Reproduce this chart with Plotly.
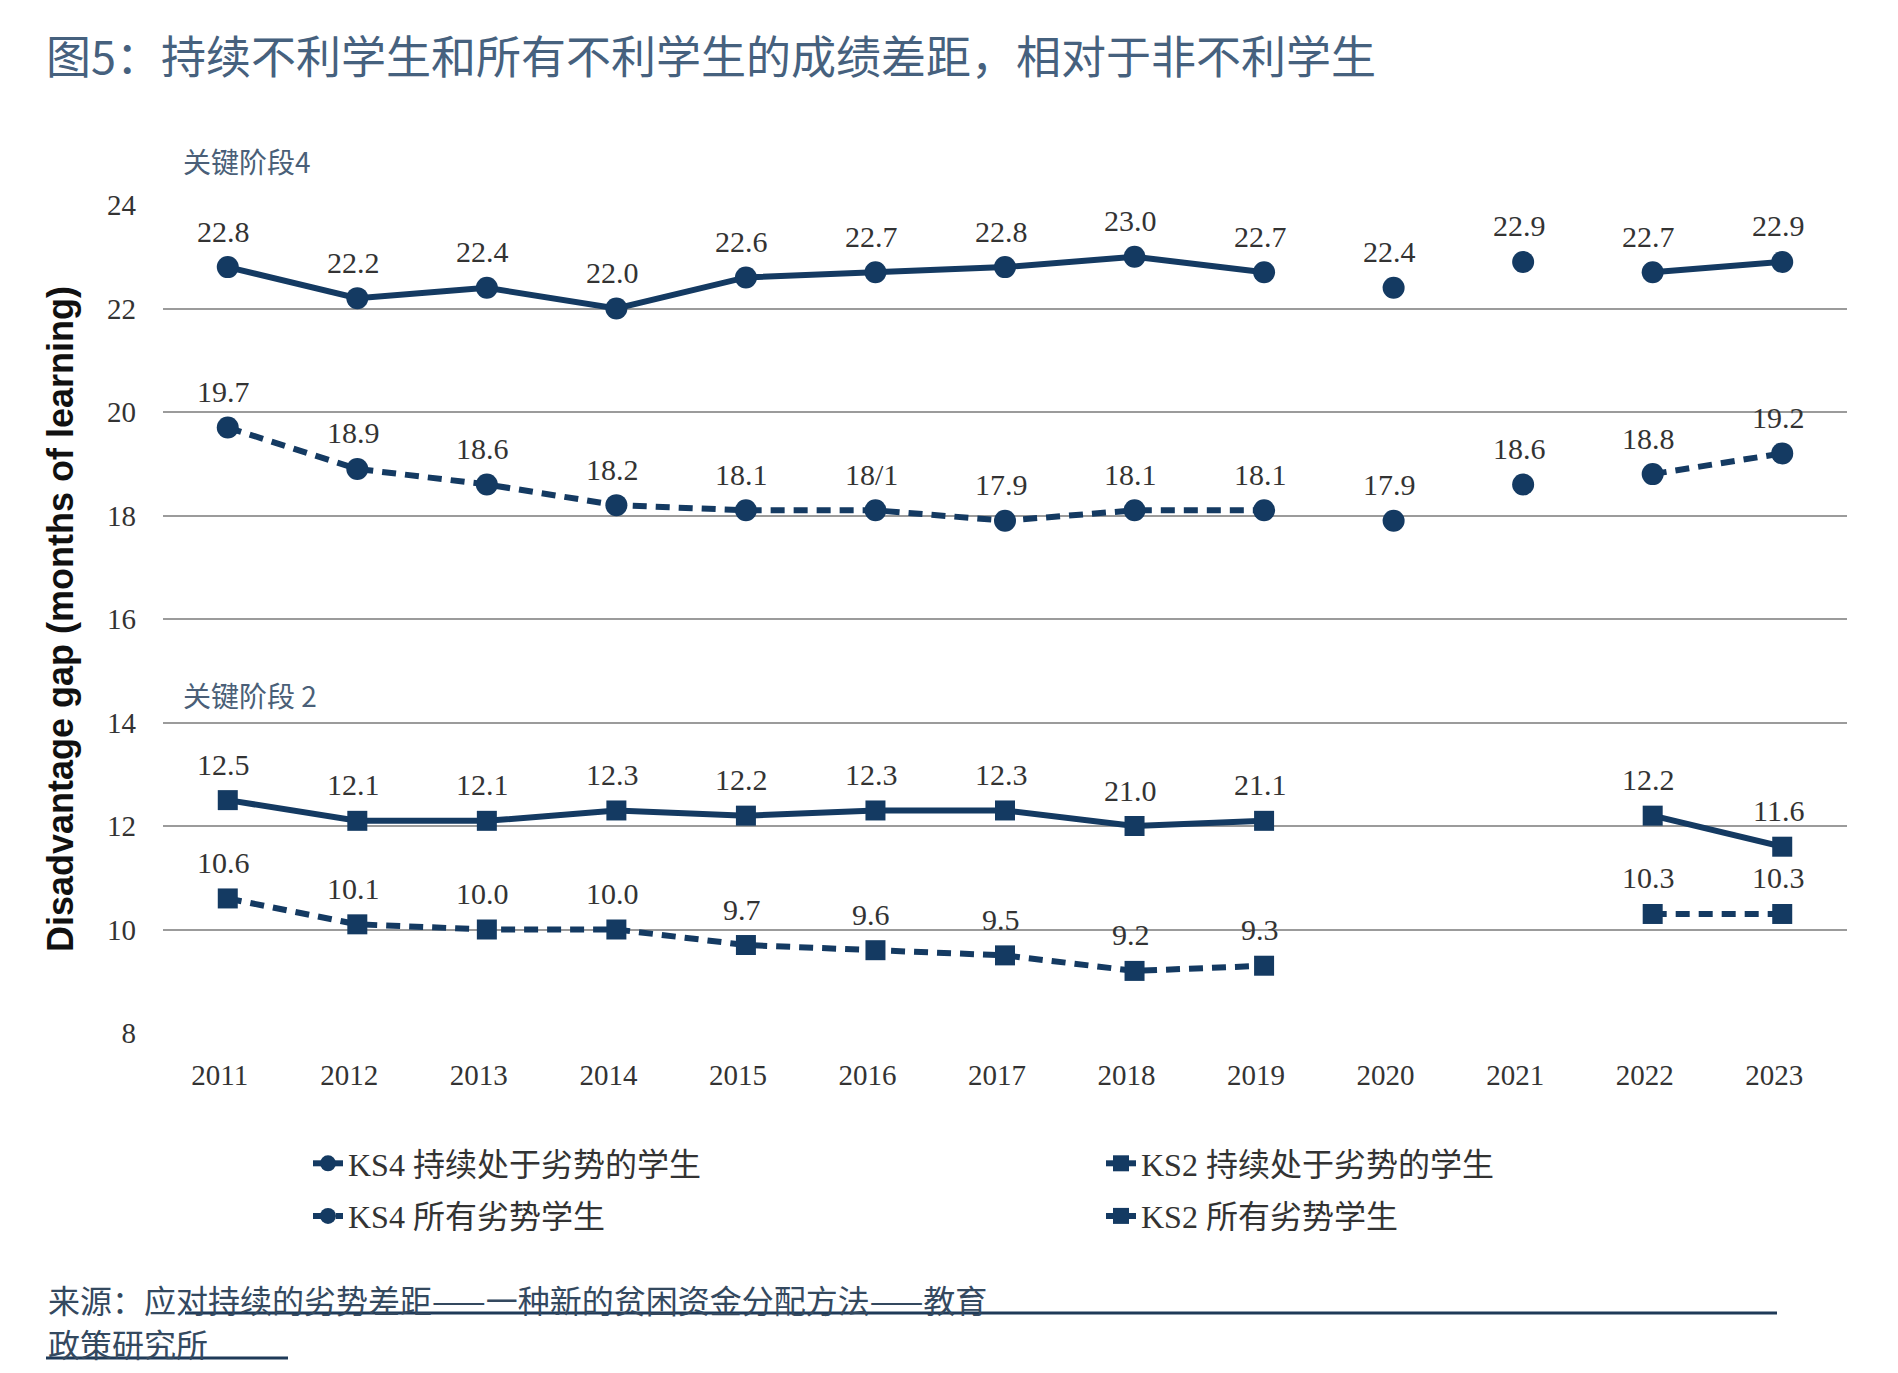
import plotly.graph_objects as go

# ---------------- data ----------------
years = [2011, 2012, 2013, 2014, 2015, 2016, 2017, 2018, 2019, 2020, 2021, 2022, 2023]

ks4_persistent = [22.8, 22.2, 22.4, 22.0, 22.6, 22.7, 22.8, 23.0, 22.7, 22.4, 22.9, 22.7, 22.9]
ks4_all = [19.7, 18.9, 18.6, 18.2, 18.1, 18.1, 17.9, 18.1, 18.1, 17.9, 18.6, 18.8, 19.2]
ks2_persistent = [12.5, 12.1, 12.1, 12.3, 12.2, 12.3, 12.3, 12.0, 12.1, None, None, 12.2, 11.6]
ks2_all = [10.6, 10.1, 10.0, 10.0, 9.7, 9.6, 9.5, 9.2, 9.3, None, None, 10.3, 10.3]

# labels exactly as printed in the source chart
ks4_persistent_labels = ["22.8", "22.2", "22.4", "22.0", "22.6", "22.7", "22.8", "23.0", "22.7", "22.4", "22.9", "22.7", "22.9"]
ks4_all_labels = ["19.7", "18.9", "18.6", "18.2", "18.1", "18/1", "17.9", "18.1", "18.1", "17.9", "18.6", "18.8", "19.2"]
ks2_persistent_labels = ["12.5", "12.1", "12.1", "12.3", "12.2", "12.3", "12.3", "21.0", "21.1", None, None, "12.2", "11.6"]
ks2_all_labels = ["10.6", "10.1", "10.0", "10.0", "9.7", "9.6", "9.5", "9.2", "9.3", None, None, "10.3", "10.3"]

# connected runs of years (lines are broken between runs)
segments = [(2011, 2019), (2020, 2020), (2021, 2021), (2022, 2023)]

series_names = ["KS4 持续处于劣势的学生", "KS4 所有劣势学生", "KS2 持续处于劣势的学生", "KS2 所有劣势学生"]
y_ticks = [8, 10, 12, 14, 16, 18, 20, 22, 24]

title_text = "图5：持续不利学生和所有不利学生的成绩差距，相对于非不利学生"
y_title = "Disadvantage gap (months of learning)"
ks4_section = "关键阶段4"
ks2_section = "关键阶段 2"
source_line1 = "来源：应对持续的劣势差距——一种新的贫困资金分配方法——教育"
source_line2 = "政策研究所"

# ---------------- style ----------------
NAVY = "#143a62"
SERIF = "Liberation Serif, Noto Sans CJK SC, serif"
CJK = "Noto Sans CJK SC, sans-serif"
W, H = 1898, 1373
L, R, T, B = 163, 51, 205, 340
PW, PH = W - L - R, H - T - B


def px_x(px):
    return (px - L) / PW


def px_y(py):
    return (H - B - py) / PH


fig = go.Figure()

series = [
    (ks4_persistent, ks4_persistent_labels, series_names[0], "circle", "solid", "legend"),
    (ks4_all, ks4_all_labels, series_names[1], "circle", "14px,9px", "legend"),
    (ks2_persistent, ks2_persistent_labels, series_names[2], "square", "solid", "legend2"),
    (ks2_all, ks2_all_labels, series_names[3], "square", "14px,9px", "legend2"),
]

for vals, labels, name, symbol, dash, leg in series:
    first = True
    for (a, b) in segments:
        xs = [yr for yr, v in zip(years, vals) if a <= yr <= b and v is not None]
        ys = [v for yr, v in zip(years, vals) if a <= yr <= b and v is not None]
        if not xs:
            continue
        fig.add_trace(go.Scatter(
            x=xs, y=ys, mode="lines+markers", name=name,
            legendgroup=name, showlegend=first, legend=leg,
            line=dict(color=NAVY, width=6, dash=dash),
            marker=dict(symbol=symbol, size=22 if symbol == "circle" else 20, color=NAVY),
            hoverinfo="skip",
        ))
        first = False
    for yr, v, lab in zip(years, vals, labels):
        if v is None or lab is None:
            continue
        fig.add_annotation(
            x=yr, y=v, text=lab, showarrow=False, yshift=36, xshift=-4,
            font=dict(family=SERIF, size=30, color="#333333"),
            xref="x", yref="y",
        )

# section labels
fig.add_annotation(x=px_x(181), y=px_y(161), xref="paper", yref="paper", text=ks4_section,
                   showarrow=False, xanchor="left", yanchor="middle",
                   font=dict(family=CJK, size=28, color="#4a5f78"))
fig.add_annotation(x=px_x(181), y=px_y(695), xref="paper", yref="paper", text=ks2_section,
                   showarrow=False, xanchor="left", yanchor="middle",
                   font=dict(family=CJK, size=28, color="#4a5f78"))

# y-axis title
fig.add_annotation(x=px_x(60), y=0.5, xref="paper", yref="paper", text=y_title,
                   showarrow=False, textangle=-90, xanchor="center", yanchor="middle",
                   font=dict(family="Liberation Sans, Arial, sans-serif", size=36, color="#111111",
                             weight="bold"))

# source
fig.add_annotation(x=px_x(46), y=px_y(1299), xref="paper", yref="paper", text=source_line1,
                   showarrow=False, xanchor="left", yanchor="middle",
                   font=dict(family=CJK, size=32, color="#34495f"))
fig.add_annotation(x=px_x(46), y=px_y(1343), xref="paper", yref="paper", text=source_line2,
                   showarrow=False, xanchor="left", yanchor="middle",
                   font=dict(family=CJK, size=32, color="#34495f"))
fig.add_shape(type="line", xref="paper", yref="paper", x0=px_x(185), x1=px_x(1777),
              y0=px_y(1313), y1=px_y(1313), line=dict(color="#1f3a58", width=3))
fig.add_shape(type="line", xref="paper", yref="paper", x0=px_x(46), x1=px_x(288),
              y0=px_y(1358), y1=px_y(1358), line=dict(color="#1f3a58", width=3))

fig.update_layout(
    width=W, height=H,
    margin=dict(l=L, r=R, t=T, b=B),
    paper_bgcolor="white", plot_bgcolor="white",
    title=dict(text=title_text, x=46 / W, xanchor="left", y=1 - 58 / H, yanchor="middle",
               font=dict(family=CJK, size=45, color="#46617e")),
    showlegend=True,
    legend=dict(x=px_x(308), y=px_y(1136), xanchor="left", yanchor="top",
                orientation="v", bgcolor="rgba(0,0,0,0)",
                font=dict(family=SERIF, size=32, color="#333333"), tracegroupgap=8),
    legend2=dict(x=px_x(1101), y=px_y(1136), xanchor="left", yanchor="top",
                 orientation="v", bgcolor="rgba(0,0,0,0)",
                 font=dict(family=SERIF, size=32, color="#333333"), tracegroupgap=8),
    xaxis=dict(range=[2010.5, 2023.5], tickmode="array", tickvals=years,
               ticktext=[str(y) for y in years], showgrid=False, zeroline=False,
               showline=False, ticks="", ticklabelstandoff=22, ticklabelshift=-8,
               tickfont=dict(family=SERIF, size=29, color="#333333")),
    yaxis=dict(range=[8, 24], tickmode="array", tickvals=y_ticks,
               showgrid=True, gridcolor="#9b9b9b", gridwidth=2, zeroline=False,
               showline=False, ticks="", ticklabelstandoff=26,
               tickfont=dict(family=SERIF, size=29, color="#333333")),
)

fig.write_html("out.html")
